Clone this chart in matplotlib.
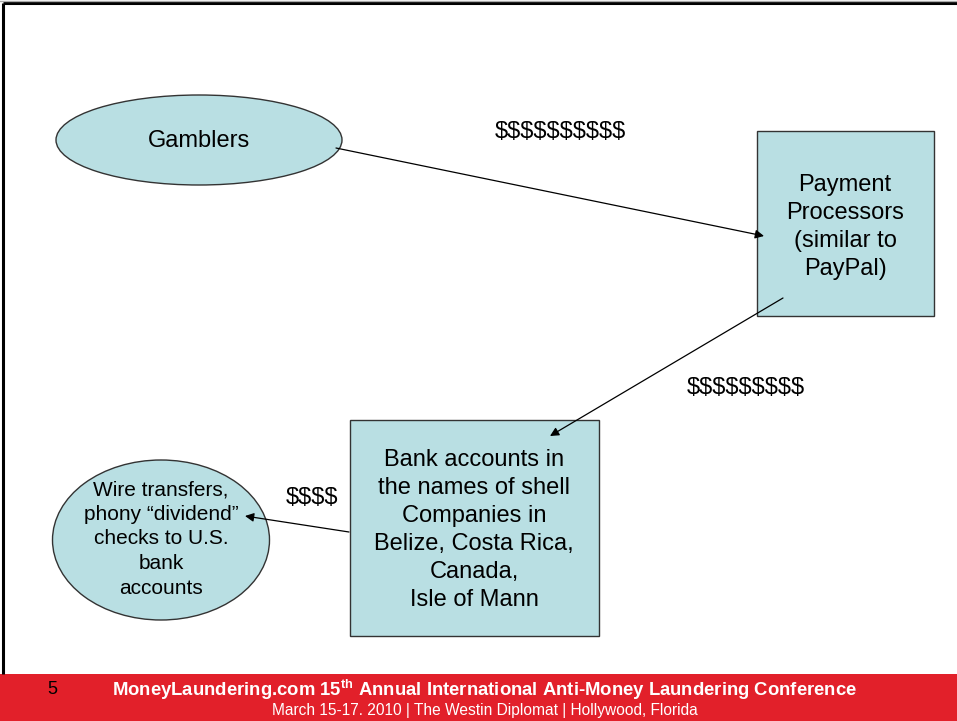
import matplotlib
matplotlib.use('Agg')
import matplotlib.pyplot as plt
from matplotlib.patches import Ellipse, Rectangle

plt.rcParams['font.family'] = ['Liberation Sans', 'DejaVu Sans']
plt.rcParams['mathtext.fontset'] = 'custom'
plt.rcParams['mathtext.rm'] = 'Liberation Sans'
plt.rcParams['mathtext.bf'] = 'Liberation Sans:bold'

W, H = 957, 721
FILL = '#B9DFE3'
EDGE = '#333333'
RED = '#E2202A'

# nodes
node_labels = ['Gamblers',
               'Payment\nProcessors\n(similar to\nPayPal)',
               'Bank accounts in\nthe names of shell\nCompanies in\nBelize, Costa Rica,\nCanada,\nIsle of Mann',
               'Wire transfers,\nphony \u201cdividend\u201d\nchecks to U.S.\nbank\naccounts']
node_kinds = ['ellipse', 'box', 'box', 'ellipse']
node_cx = [199, 845, 474, 161]
node_cy = [140, 223.5, 528, 540]
node_w = [286, 177, 249, 217]
node_h = [90, 185, 216, 160]
node_fs = [17, 17, 17, 15]
node_ls = [1.2, 1.36, 1.35, 1.37]
text_cy = [141, 227, 530, 539]

# flows
arrow_start = [(336, 148), (783, 298), (349, 532)]
arrow_end = [(764, 236), (550, 436), (245, 516)]
flow_labels = ['$$$$$$$$$$', '$$$$$$$$$', '$$$$']
flow_label_xy = [(560, 132), (746, 388), (312, 498)]

fig = plt.figure(figsize=(W / 100, H / 100), dpi=100)
ax = fig.add_axes([0, 0, 1, 1])
ax.set_xlim(0, W)
ax.set_ylim(H, 0)
ax.axis('off')

# slide frame
ax.plot([3, W], [3, 3], color='black', lw=2.2, solid_capstyle='butt')
ax.plot([3, 3], [3, 674], color='black', lw=2.2, solid_capstyle='butt')
ax.plot([0, W], [0.6, 0.6], color='#aaaaaa', lw=1)

for lab, kind, cx, cy, w, h, fs, ls, ty in zip(node_labels, node_kinds, node_cx, node_cy,
                                               node_w, node_h, node_fs, node_ls, text_cy):
    if kind == 'ellipse':
        p = Ellipse((cx, cy), w, h, facecolor=FILL, edgecolor=EDGE, lw=1.0)
    else:
        p = Rectangle((cx - w / 2, cy - h / 2), w, h, facecolor=FILL,
                      edgecolor=EDGE, lw=1.0)
    ax.add_patch(p)
    ax.text(cx, ty, lab, ha='center', va='center', fontsize=fs,
            linespacing=ls, color='black')

for (x0, y0), (x1, y1) in zip(arrow_start, arrow_end):
    ax.annotate('', xy=(x1, y1), xytext=(x0, y0),
                arrowprops=dict(arrowstyle='-|>', color='black', lw=0.9,
                                mutation_scale=13, shrinkA=0, shrinkB=0))

for lab, (x, y) in zip(flow_labels, flow_label_xy):
    ax.text(x, y, lab, ha='center', va='center', fontsize=17, color='black',
            parse_math=False)

# footer band
ax.add_patch(Rectangle((0, 674), W, H - 674, facecolor=RED, edgecolor='none'))
ax.text(52, 690, '5', ha='center', va='center', fontsize=13, color='black')
ax.text(485, 690, 'MoneyLaundering.com 15$^{\\mathbf{th}}$ Annual International Anti-Money Laundering Conference',
        ha='center', va='center', fontsize=13.3, fontweight='bold', color='white')
ax.text(485, 710, 'March 15-17. 2010 | The Westin Diplomat | Hollywood, Florida',
        ha='center', va='center', fontsize=11.2, color='white')

fig.savefig('out.png', dpi=100)
